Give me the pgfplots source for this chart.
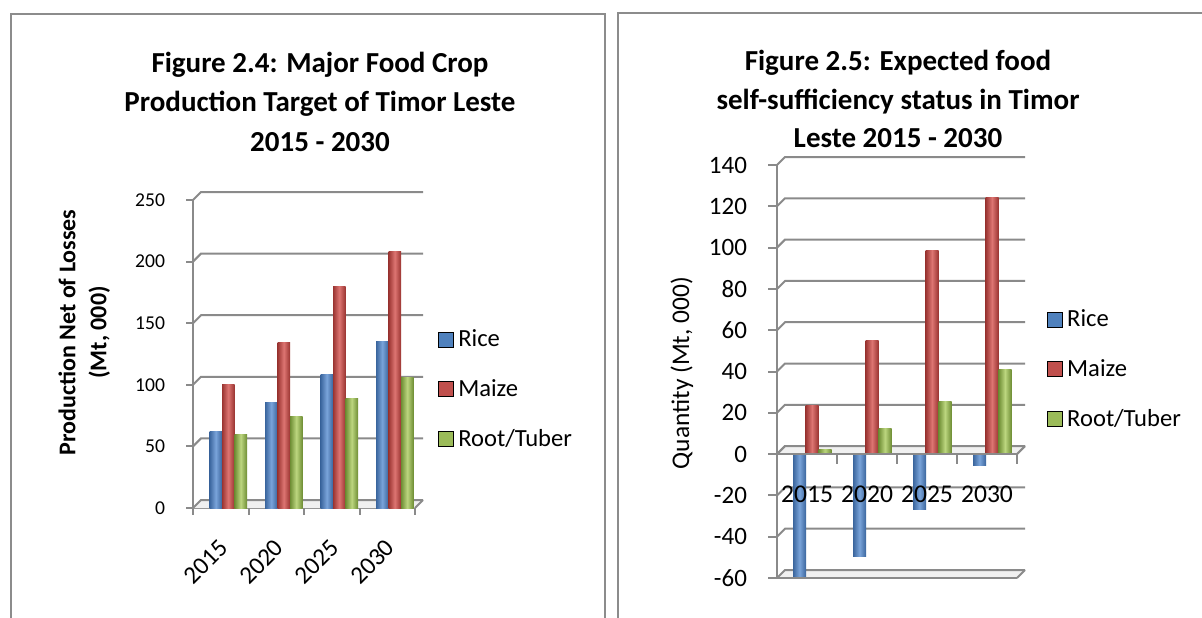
\documentclass[border=0pt]{standalone}
\usepackage{pgfplots}
\pgfplotsset{compat=1.18}
\usepackage{fontspec}
\setmainfont{Carlito}
\definecolor{riceD}{HTML}{3A659D}
\definecolor{riceL}{HTML}{7AA4DA}
\definecolor{maizeD}{HTML}{9A3431}
\definecolor{maizeL}{HTML}{DD7572}
\definecolor{rootD}{HTML}{6E8D34}
\definecolor{rootL}{HTML}{BCD67F}
\definecolor{riceC}{HTML}{4F81BD}
\definecolor{maizeC}{HTML}{C0504D}
\definecolor{rootC}{HTML}{9BBB59}
\definecolor{gridc}{HTML}{8A8A8A}
\definecolor{framec}{HTML}{8C8C8C}
\pgfplotsset{
  ricebar/.style={ybar, draw=none, left color=riceD, right color=riceD, middle color=riceL, forget plot},
  maizebar/.style={ybar, draw=none, left color=maizeD, right color=maizeD, middle color=maizeL, forget plot},
  rootbar/.style={ybar, draw=none, left color=rootD, right color=rootD, middle color=rootL, forget plot},
}
\begin{document}
\begin{tikzpicture}
\path[use as bounding box] (0,0) rectangle (601pt,308.5pt);
% panel frames
\draw[framec, line width=1pt] (5.5pt,-5pt) -- (5.5pt,301.5pt) -- (302.5pt,301.5pt) -- (302.5pt,-5pt);
\draw[framec, line width=1pt] (309pt,-5pt) -- (309pt,302pt) -- (610pt,302pt);
% titles
\begin{scope}[font=\bfseries\fontsize{14.5}{17}\selectfont]
\node[anchor=base] at (160pt,272pt) {Figure 2.4: Major Food Crop};
\node[anchor=base] at (160pt,252.5pt) {Production Target of Timor Leste};
\node[anchor=base] at (160pt,233pt) {2015 - 2030};
\node[anchor=base] at (449pt,273pt) {Figure 2.5: Expected food};
\node[anchor=base] at (449pt,253.5pt) {self-sufficiency status in Timor};
\node[anchor=base] at (449pt,235pt) {Leste 2015 - 2030};
\end{scope}

% ---------------- left chart ----------------
\begin{axis}[
  at={(96.5pt,54.5pt)}, anchor=south west,
  width=111pt, height=154pt, scale only axis,
  clip=false,
  xmin=-0.5, xmax=3.5, ymin=0, ymax=250,
  axis x line*=bottom, axis y line*=left,
  axis line style={draw=gridc, line width=1pt, -},
  every tick/.style={gridc, line width=1pt},
  tick align=outside,
  ytick={0,50,100,150,200,250},
  major tick length=3.5pt,
  xtick={0,1,2,3}, xticklabels={2015,2020,2025,2030},
  x tick style={draw=none},
  /pgf/number format/assume math mode=true,
  yticklabel style={font=\fontsize{9.8}{12}\selectfont, xshift=-7pt},
  xticklabel style={font=\fontsize{12.5}{14}\selectfont, xshift=4pt, yshift=-12pt, rotate=45, anchor=east},
  ylabel={Production Net of Losses\\(Mt, 000)},
  ylabel style={align=center, font=\bfseries\fontsize{12}{15.5}\selectfont, at={(axis description cs:-0.49,0.57)}, anchor=center},
  legend style={at={(1.104,0.385)}, anchor=west, draw=none, fill=none, inner sep=0pt, row sep=11pt,
    font=\fontsize{12.3}{14}\selectfont},
  legend cell align=left,
  legend image code/.code={\fill[#1] (0pt,-3.75pt) rectangle (7.5pt,3.75pt);},
]
\addlegendimage{fill=riceC}\addlegendentry{Rice}
\addlegendimage{fill=maizeC}\addlegendentry{Maize}
\addlegendimage{fill=rootC}\addlegendentry{Root/Tuber}
% floor
\fill[gray!12] (axis cs:-0.5,0) -- (axis cs:3.5,0) -- ++(4pt,4pt) -- ([shift={(4pt,4pt)}]axis cs:-0.5,0) -- cycle;
\draw[gridc, line width=1pt] (axis cs:3.5,0) -- ++(4pt,4pt);
\pgfplotsinvokeforeach{0,50,100,150,200,250}{
  \draw[gridc, line width=1pt] (axis cs:-0.5,#1) -- ++(4pt,4pt) -- ([shift={(4pt,4pt)}]axis cs:3.5,#1);
}
\pgfplotsinvokeforeach{-0.5,0.5,1.5,2.5,3.5}{
  \draw[gridc, line width=1pt] (axis cs:#1,0) -- ++(0pt,-3.5pt);
}
% Rice
\addplot[ricebar, bar width=6.25pt, bar shift=-2.5pt] coordinates {(0,62)};
\addplot[ricebar, bar width=6.25pt, bar shift=-2.5pt] coordinates {(1,86)};
\addplot[ricebar, bar width=6.25pt, bar shift=-2.5pt] coordinates {(2,108)};
\addplot[ricebar, bar width=6.25pt, bar shift=-2.5pt] coordinates {(3,135)};
% Maize
\addplot[maizebar, bar width=6.25pt, bar shift=3.75pt] coordinates {(0,100)};
\addplot[maizebar, bar width=6.25pt, bar shift=3.75pt] coordinates {(1,134)};
\addplot[maizebar, bar width=6.25pt, bar shift=3.75pt] coordinates {(2,180)};
\addplot[maizebar, bar width=6.25pt, bar shift=3.75pt] coordinates {(3,208)};
% Root/Tuber
\addplot[rootbar, bar width=6.25pt, bar shift=10pt] coordinates {(0,60)};
\addplot[rootbar, bar width=6.25pt, bar shift=10pt] coordinates {(1,74)};
\addplot[rootbar, bar width=6.25pt, bar shift=10pt] coordinates {(2,88.5)};
\addplot[rootbar, bar width=6.25pt, bar shift=10pt] coordinates {(3,106)};
\end{axis}

% ---------------- right chart ----------------
\begin{axis}[
  at={(388.5pt,19.5pt)}, anchor=south west,
  width=120pt, height=206.5pt, scale only axis,
  clip=false, axis on top,
  xmin=-0.5, xmax=3.5, ymin=-60, ymax=140,
  axis x line*=bottom, axis y line*=left,
  axis line style={draw=gridc, line width=1pt, -},
  every tick/.style={gridc, line width=1pt},
  tick align=outside,
  ytick={-60,-40,...,140},
  major tick length=4.5pt,
  xtick={0,1,2,3}, xticklabels={2015,2020,2025,2030},
  x tick style={draw=none},
  /pgf/number format/assume math mode=true,
  yticklabel style={font=\fontsize{12.5}{14}\selectfont, xshift=-7pt},
  xticklabel style={font=\fontsize{12.8}{14}\selectfont, anchor=center, yshift=46.5pt},
  ylabel={Quantity (Mt, 000)},
  ylabel style={font=\fontsize{12.7}{15}\selectfont, at={(axis description cs:-0.396,0.496)}, anchor=center},
  legend style={at={(1.125,0.505)}, anchor=west, draw=none, fill=none, inner sep=0pt, row sep=11pt,
    font=\fontsize{12.3}{14}\selectfont},
  legend cell align=left,
  legend image code/.code={\fill[#1] (0pt,-3.75pt) rectangle (7.5pt,3.75pt);},
]
\addlegendimage{fill=riceC}\addlegendentry{Rice}
\addlegendimage{fill=maizeC}\addlegendentry{Maize}
\addlegendimage{fill=rootC}\addlegendentry{Root/Tuber}
% floor
\fill[gray!12] (axis cs:-0.5,-60) -- (axis cs:3.5,-60) -- ++(4pt,4pt) -- ([shift={(4pt,4pt)}]axis cs:-0.5,-60) -- cycle;
\draw[gridc, line width=1pt] (axis cs:3.5,-60) -- ++(4pt,4pt);
\pgfplotsinvokeforeach{-60,-40,-20,0,20,40,60,80,100,120,140}{
  \draw[gridc, line width=1pt] (axis cs:-0.5,#1) -- ++(4pt,4pt) -- ([shift={(4pt,4pt)}]axis cs:3.5,#1);
}
% zero plane
\fill[gray!12] (axis cs:-0.5,0) -- (axis cs:3.5,0) -- ++(4pt,4pt) -- ([shift={(4pt,4pt)}]axis cs:-0.5,0) -- cycle;
\draw[gridc, line width=1pt] (axis cs:3.5,0) -- ++(4pt,4pt);
\draw[gridc, line width=1pt] (axis cs:-0.5,0) -- ++(4pt,4pt) -- ([shift={(4pt,4pt)}]axis cs:3.5,0);
% Rice
\addplot[ricebar, bar width=6.5pt, bar shift=-3.75pt] coordinates {(0,-59.4)};
\addplot[ricebar, bar width=6.5pt, bar shift=-3.75pt] coordinates {(1,-49.8)};
\addplot[ricebar, bar width=6.5pt, bar shift=-3.75pt] coordinates {(2,-27)};
\addplot[ricebar, bar width=6.5pt, bar shift=-3.75pt] coordinates {(3,-5.6)};
% Maize
\addplot[maizebar, bar width=6.5pt, bar shift=2.5pt] coordinates {(0,23.6)};
\addplot[maizebar, bar width=6.5pt, bar shift=2.5pt] coordinates {(1,55)};
\addplot[maizebar, bar width=6.5pt, bar shift=2.5pt] coordinates {(2,98.5)};
\addplot[maizebar, bar width=6.5pt, bar shift=2.5pt] coordinates {(3,124.5)};
% Root/Tuber
\addplot[rootbar, bar width=6.5pt, bar shift=9pt] coordinates {(0,2.4)};
\addplot[rootbar, bar width=6.5pt, bar shift=9pt] coordinates {(1,12.4)};
\addplot[rootbar, bar width=6.5pt, bar shift=9pt] coordinates {(2,25.7)};
\addplot[rootbar, bar width=6.5pt, bar shift=9pt] coordinates {(3,41)};
\draw[gridc, line width=1pt] (axis cs:-0.5,0) -- (axis cs:3.5,0);
\pgfplotsinvokeforeach{-0.5,0.5,1.5,2.5,3.5}{
  \draw[gridc, line width=1pt] (axis cs:#1,0) -- ++(0pt,-5pt);
}
\end{axis}
\end{tikzpicture}
\end{document}
